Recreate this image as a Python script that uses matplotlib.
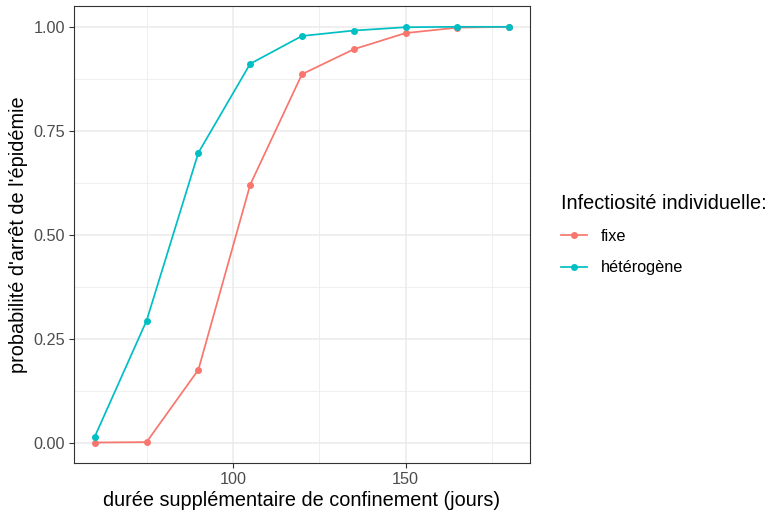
import matplotlib
matplotlib.use("Agg")
import matplotlib.pyplot as plt
from matplotlib.ticker import MultipleLocator

plt.rcParams["font.family"] = ["Liberation Sans", "DejaVu Sans"]

# durée supplémentaire de confinement (jours)
durees = [60, 75, 90, 105, 120, 135, 150, 165, 180]
prob_fixe = [0.000, 0.001, 0.175, 0.620, 0.886, 0.946, 0.985, 0.998, 1.000]
prob_hetero = [0.014, 0.293, 0.697, 0.911, 0.978, 0.991, 0.999, 1.000, 1.000]

COL_FIXE = "#F8766D"
COL_HETERO = "#00BFC4"

fig = plt.figure(figsize=(7.68, 5.15), dpi=100)
ax = fig.add_axes([0.0964, 0.1004, 0.5936, 0.8879])

ax.plot(durees, prob_fixe, color=COL_FIXE, lw=1.25, marker="o", ms=4,
        label="fixe", zorder=3)
ax.plot(durees, prob_hetero, color=COL_HETERO, lw=1.25, marker="o", ms=4,
        label="hétérogène", zorder=3)

ax.set_xlim(54, 186)
ax.set_ylim(-0.05, 1.05)
ax.xaxis.set_major_locator(MultipleLocator(50))
ax.xaxis.set_minor_locator(MultipleLocator(25))
ax.set_yticks([0, 0.25, 0.5, 0.75, 1.0])
ax.set_yticklabels(["0.00", "0.25", "0.50", "0.75", "1.00"])
ax.yaxis.set_minor_locator(MultipleLocator(0.125))

ax.grid(which="major", color="#EBEBEB", lw=1.1, zorder=0)
ax.grid(which="minor", color="#EBEBEB", lw=0.55, zorder=0)
ax.set_axisbelow(True)
ax.tick_params(which="minor", length=0)
ax.tick_params(which="major", length=3.5, width=0.8, color="#333333",
               labelsize=11.7, labelcolor="#4D4D4D", pad=3)
for s in ax.spines.values():
    s.set_color("#333333")
    s.set_linewidth(0.8)

ax.set_xlabel("durée supplémentaire de confinement (jours)", fontsize=14.3,
              labelpad=3)
ax.set_ylabel("probabilité d'arrêt de l'épidémie", fontsize=14.3, labelpad=4)

leg = ax.legend(title="Infectiosité individuelle:", loc="center left",
                bbox_to_anchor=(1.055, 0.5), frameon=False, fontsize=11.7,
                title_fontsize=14.3, handlelength=1.6, labelspacing=1.0,
                handletextpad=0.8, borderaxespad=0)
leg._legend_box.align = "left"

fig.savefig("out.png", dpi=100)
